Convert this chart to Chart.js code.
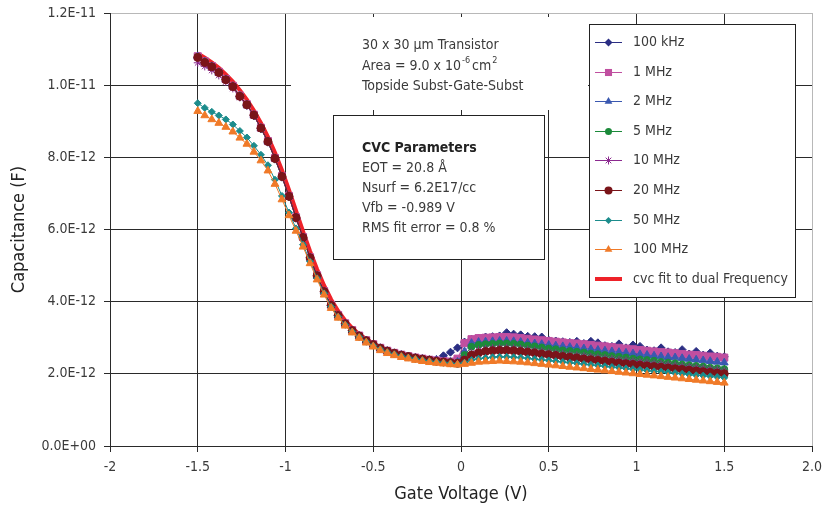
<!DOCTYPE html>
<html>
<head>
<meta charset="utf-8">
<script src="https://cdn.jsdelivr.net/npm/chart.js"></script>
<style>
  html, body { margin: 0; padding: 0; background: #fff; }
</style>
</head>
<body>
<canvas id="mycanvas" width="825" height="510"></canvas>
<script>
// gate voltage sweep (V)
var volts = [
  -1.50, -1.46, -1.42, -1.38, -1.34, -1.30, -1.26, -1.22, -1.18, -1.14,
  -1.10, -1.06, -1.02, -0.98, -0.94, -0.90, -0.86, -0.82, -0.78, -0.74,
  -0.70, -0.66, -0.62, -0.58, -0.54, -0.50, -0.46, -0.42, -0.38, -0.34,
  -0.30, -0.26, -0.22, -0.18, -0.14, -0.10, -0.06, -0.02, 0.02, 0.06,
  0.10, 0.14, 0.18, 0.22, 0.26, 0.30, 0.34, 0.38, 0.42, 0.46,
  0.50, 0.54, 0.58, 0.62, 0.66, 0.70, 0.74, 0.78, 0.82, 0.86,
  0.90, 0.94, 0.98, 1.02, 1.06, 1.10, 1.14, 1.18, 1.22, 1.26,
  1.30, 1.34, 1.38, 1.42, 1.46, 1.50
];

// capacitance, in pF
var c100k = [
  10.76, 10.63, 10.50, 10.34, 10.15, 9.95, 9.68, 9.44, 9.15, 8.79,
  8.42, 7.95, 7.45, 6.90, 6.31, 5.76, 5.21, 4.71, 4.27, 3.89,
  3.61, 3.38, 3.19, 3.04, 2.91, 2.80, 2.70, 2.62, 2.56, 2.51,
  2.47, 2.43, 2.40, 2.38, 2.40, 2.50, 2.60, 2.72, 2.88, 2.96,
  2.99, 3.02, 3.03, 3.05, 3.14, 3.10, 3.08, 3.04, 3.03, 3.02,
  2.93, 2.91, 2.89, 2.87, 2.90, 2.84, 2.90, 2.86, 2.78, 2.76,
  2.83, 2.72, 2.80, 2.76, 2.66, 2.64, 2.72, 2.61, 2.59, 2.67,
  2.55, 2.62, 2.52, 2.58, 2.49, 2.47
];
var c1M = [
  10.80, 10.66, 10.53, 10.37, 10.17, 9.98, 9.71, 9.47, 9.18, 8.82,
  8.45, 7.98, 7.48, 6.93, 6.34, 5.79, 5.23, 4.73, 4.29, 3.91,
  3.63, 3.40, 3.21, 3.06, 2.93, 2.82, 2.72, 2.64, 2.58, 2.53,
  2.49, 2.45, 2.42, 2.39, 2.37, 2.35, 2.34, 2.42, 2.85, 2.96,
  2.99, 3.00, 3.01, 3.02, 3.02, 3.01, 2.99, 2.97, 2.95, 2.93,
  2.91, 2.89, 2.87, 2.85, 2.84, 2.82, 2.80, 2.78, 2.76, 2.74,
  2.72, 2.70, 2.68, 2.66, 2.64, 2.62, 2.60, 2.59, 2.57, 2.55,
  2.53, 2.52, 2.50, 2.48, 2.47, 2.45
];
var c2M = [
  10.79, 10.65, 10.52, 10.36, 10.16, 9.97, 9.70, 9.46, 9.17, 8.81,
  8.44, 7.97, 7.47, 6.92, 6.33, 5.78, 5.22, 4.72, 4.28, 3.90,
  3.62, 3.39, 3.20, 3.05, 2.92, 2.81, 2.71, 2.63, 2.57, 2.52,
  2.48, 2.44, 2.41, 2.38, 2.36, 2.34, 2.33, 2.33, 2.62, 2.85,
  2.88, 2.89, 2.90, 2.91, 2.91, 2.90, 2.88, 2.86, 2.84, 2.82,
  2.80, 2.78, 2.76, 2.74, 2.72, 2.70, 2.68, 2.66, 2.64, 2.62,
  2.60, 2.58, 2.56, 2.54, 2.52, 2.50, 2.48, 2.46, 2.45, 2.43,
  2.41, 2.39, 2.37, 2.35, 2.33, 2.31
];
var c5M = [
  10.78, 10.64, 10.51, 10.35, 10.15, 9.96, 9.69, 9.45, 9.16, 8.80,
  8.43, 7.96, 7.46, 6.91, 6.32, 5.77, 5.21, 4.71, 4.27, 3.89,
  3.61, 3.38, 3.19, 3.04, 2.91, 2.80, 2.70, 2.62, 2.56, 2.51,
  2.47, 2.43, 2.40, 2.37, 2.35, 2.33, 2.32, 2.31, 2.52, 2.75,
  2.80, 2.82, 2.83, 2.84, 2.84, 2.83, 2.81, 2.78, 2.76, 2.73,
  2.70, 2.68, 2.65, 2.63, 2.61, 2.59, 2.56, 2.54, 2.52, 2.49,
  2.47, 2.45, 2.42, 2.40, 2.38, 2.36, 2.33, 2.31, 2.29, 2.26,
  2.24, 2.22, 2.20, 2.17, 2.15, 2.13
];
var c10M = [
  10.62, 10.52, 10.41, 10.27, 10.09, 9.91, 9.66, 9.43, 9.15, 8.80,
  8.43, 7.96, 7.46, 6.91, 6.32, 5.77, 5.21, 4.71, 4.27, 3.89,
  3.61, 3.38, 3.19, 3.04, 2.91, 2.80, 2.70, 2.62, 2.56, 2.51,
  2.47, 2.43, 2.40, 2.37, 2.35, 2.33, 2.31, 2.30, 2.42, 2.58,
  2.65, 2.69, 2.71, 2.72, 2.72, 2.71, 2.69, 2.67, 2.64, 2.62,
  2.59, 2.57, 2.55, 2.53, 2.51, 2.49, 2.47, 2.45, 2.43, 2.41,
  2.39, 2.37, 2.35, 2.33, 2.31, 2.29, 2.27, 2.25, 2.23, 2.21,
  2.19, 2.17, 2.15, 2.13, 2.11, 2.08
];
var c20M = [
  10.77, 10.63, 10.51, 10.35, 10.15, 9.96, 9.69, 9.46, 9.17, 8.81,
  8.44, 7.97, 7.47, 6.92, 6.33, 5.78, 5.22, 4.72, 4.28, 3.90,
  3.62, 3.39, 3.20, 3.05, 2.92, 2.81, 2.71, 2.63, 2.57, 2.52,
  2.48, 2.44, 2.41, 2.38, 2.35, 2.33, 2.31, 2.29, 2.38, 2.52,
  2.58, 2.62, 2.64, 2.65, 2.65, 2.64, 2.62, 2.60, 2.58, 2.55,
  2.53, 2.51, 2.48, 2.46, 2.44, 2.41, 2.39, 2.37, 2.35, 2.32,
  2.30, 2.28, 2.26, 2.24, 2.22, 2.20, 2.18, 2.16, 2.14, 2.12,
  2.10, 2.08, 2.06, 2.04, 2.02, 2.00
];
var c50M = [
  9.50, 9.37, 9.26, 9.16, 9.05, 8.91, 8.73, 8.55, 8.32, 8.07,
  7.78, 7.38, 6.93, 6.47, 6.03, 5.58, 5.11, 4.65, 4.23, 3.86,
  3.58, 3.36, 3.17, 3.02, 2.89, 2.78, 2.68, 2.60, 2.54, 2.49,
  2.45, 2.41, 2.38, 2.35, 2.33, 2.31, 2.29, 2.27, 2.31, 2.38,
  2.42, 2.44, 2.46, 2.47, 2.47, 2.46, 2.45, 2.43, 2.41, 2.39,
  2.37, 2.35, 2.33, 2.31, 2.29, 2.27, 2.25, 2.23, 2.21, 2.19,
  2.17, 2.15, 2.13, 2.11, 2.09, 2.07, 2.06, 2.04, 2.02, 2.00,
  1.98, 1.96, 1.95, 1.93, 1.91, 1.89
];
var c100M = [
  9.28, 9.16, 9.05, 8.95, 8.84, 8.71, 8.54, 8.37, 8.15, 7.91,
  7.63, 7.26, 6.83, 6.39, 5.96, 5.52, 5.06, 4.61, 4.19, 3.82,
  3.55, 3.33, 3.14, 2.99, 2.86, 2.75, 2.65, 2.57, 2.51, 2.46,
  2.42, 2.38, 2.35, 2.32, 2.30, 2.28, 2.26, 2.25, 2.27, 2.30,
  2.33, 2.34, 2.35, 2.36, 2.35, 2.34, 2.33, 2.31, 2.29, 2.27,
  2.25, 2.23, 2.21, 2.19, 2.17, 2.15, 2.13, 2.11, 2.09, 2.07,
  2.05, 2.03, 2.01, 1.99, 1.97, 1.95, 1.93, 1.91, 1.89, 1.87,
  1.85, 1.83, 1.81, 1.79, 1.77, 1.75
];
// cvc fit, only over the accumulation/depletion part
var cFit = [
  10.88, 10.76, 10.63, 10.48, 10.30, 10.10, 9.86, 9.60, 9.30, 8.95,
  8.57, 8.13, 7.64, 7.10, 6.52, 5.95, 5.40, 4.90, 4.45, 4.06,
  3.74, 3.48, 3.27, 3.10, 2.96, 2.84, 2.74, 2.66, 2.59, 2.53,
  2.48, 2.44, 2.41, 2.38, 2.36, 2.34, 2.33, 2.32
];

var seriesNames = ['100 kHz', '1 MHz', '2 MHz', '5 MHz', '10 MHz', '20 MHz', '50 MHz', '100 MHz', 'cvc fit to dual Frequency'];
var yTicks = [0, 2, 4, 6, 8, 10, 12];
var xTicks = [-2, -1.5, -1, -0.5, 0, 0.5, 1, 1.5, 2];

var FONT = "'Liberation Sans Narrow', 'DejaVu Sans Condensed', 'Roboto', sans-serif";
var TXT = '#3a3a3a';

var styles = [
  { color: '#2b2e83', pt: 'rectRot', r: 4 },
  { color: '#c04fa0', pt: 'rect', r: 5 },
  { color: '#3a58b0', pt: 'triangle', r: 4.5 },
  { color: '#1c8a3a', pt: 'circle', r: 3.5 },
  { color: '#8b2a8f', pt: 'star', r: 4 },
  { color: '#7a1419', pt: 'circle', r: 4 },
  { color: '#1c8c8c', pt: 'rectRot', r: 3.5 },
  { color: '#f07a28', pt: 'triangle', r: 4.5 }
];
var allSeries = [c100k, c1M, c2M, c5M, c10M, c20M, c50M, c100M];

function pts(ys) {
  return ys.map(function(y, i) { return { x: volts[i], y: y }; });
}

var datasets = [];
for (var i = 0; i < allSeries.length; i++) {
  datasets.push({
    label: seriesNames[i],
    data: pts(allSeries[i]),
    showLine: true,
    borderColor: styles[i].color,
    backgroundColor: styles[i].color,
    borderWidth: 1,
    pointStyle: styles[i].pt,
    pointRadius: styles[i].r,
    pointBorderWidth: 1,
    pointBorderColor: styles[i].color,
    pointBackgroundColor: styles[i].color,
    order: 10 - i
  });
}
datasets.push({
  label: seriesNames[8],
  data: pts(cFit),
  showLine: true,
  borderColor: '#ee2229',
  backgroundColor: '#ee2229',
  borderWidth: 4,
  pointRadius: 0,
  order: 20
});

function marker(ctx, style, x, y, r, color) {
  ctx.fillStyle = color;
  ctx.strokeStyle = color;
  ctx.lineWidth = 1;
  ctx.beginPath();
  if (style === 'circle') {
    ctx.arc(x, y, r, 0, Math.PI * 2);
    ctx.fill();
  } else if (style === 'rect') {
    var s = r * Math.SQRT1_2;
    ctx.rect(x - s, y - s, 2 * s, 2 * s);
    ctx.fill();
  } else if (style === 'rectRot') {
    ctx.moveTo(x, y - r); ctx.lineTo(x + r, y); ctx.lineTo(x, y + r); ctx.lineTo(x - r, y);
    ctx.closePath();
    ctx.fill();
  } else if (style === 'triangle') {
    ctx.moveTo(x, y - r); ctx.lineTo(x + 0.866 * r, y + 0.5 * r); ctx.lineTo(x - 0.866 * r, y + 0.5 * r);
    ctx.closePath();
    ctx.fill();
  } else if (style === 'star') {
    var d = r * 0.707;
    ctx.moveTo(x - r, y); ctx.lineTo(x + r, y);
    ctx.moveTo(x, y - r); ctx.lineTo(x, y + r);
    ctx.moveTo(x - d, y - d); ctx.lineTo(x + d, y + d);
    ctx.moveTo(x - d, y + d); ctx.lineTo(x + d, y - d);
    ctx.stroke();
  }
}

var annot = {
  id: 'annot',
  afterDraw: function(chart) {
    var ctx = chart.ctx;
    ctx.save();
    ctx.textBaseline = 'middle';
    ctx.textAlign = 'left';

    // sample description (no frame, white behind)
    ctx.fillStyle = '#fff';
    ctx.fillRect(291, 17, 297, 93);
    ctx.fillStyle = TXT;
    ctx.font = '14px ' + FONT;
    ctx.fillText('30 x 30 \u00b5m Transistor', 362, 45);
    var x = 362;
    var t = 'Area = 9.0 x 10';
    ctx.fillText(t, x, 66); x += ctx.measureText(t).width + 1;
    ctx.font = '9px ' + FONT;
    ctx.fillText('-6', x, 61); x += ctx.measureText('-6').width + 2;
    ctx.font = '14px ' + FONT;
    ctx.fillText('cm', x, 66); x += ctx.measureText('cm').width + 1;
    ctx.font = '9px ' + FONT;
    ctx.fillText('2', x, 61);
    ctx.font = '14px ' + FONT;
    ctx.fillText('Topside Subst-Gate-Subst', 362, 86);

    // CVC box
    ctx.fillStyle = '#fff';
    ctx.fillRect(333, 115, 211, 144);
    ctx.strokeStyle = '#222';
    ctx.lineWidth = 1;
    ctx.strokeRect(333.5, 115.5, 211, 144);
    ctx.fillStyle = '#222';
    ctx.font = 'bold 14px ' + FONT;
    ctx.fillText('CVC Parameters', 362, 148);
    ctx.fillStyle = TXT;
    ctx.font = '14px ' + FONT;
    ctx.fillText('EOT = 20.8 \u00c5', 362, 168);
    ctx.fillText('Nsurf = 6.2E17/cc', 362, 188);
    ctx.fillText('Vfb = -0.989 V', 362, 208);
    ctx.fillText('RMS fit error = 0.8 %', 362, 228);

    // legend box
    ctx.fillStyle = '#fff';
    ctx.fillRect(589, 24, 206, 273);
    ctx.strokeStyle = '#222';
    ctx.strokeRect(589.5, 24.5, 206, 273);
    for (var i = 0; i < seriesNames.length; i++) {
      var y = Math.round(42 + i * 29.6);
      if (i < 8) {
        ctx.strokeStyle = styles[i].color;
        ctx.lineWidth = 1;
        ctx.beginPath();
        ctx.moveTo(595, y + 0.5); ctx.lineTo(622, y + 0.5);
        ctx.stroke();
        marker(ctx, styles[i].pt, 608.5, y + 0.5, styles[i].r, styles[i].color);
      } else {
        ctx.strokeStyle = '#ee2229';
        ctx.lineWidth = 4;
        ctx.beginPath();
        ctx.moveTo(595, y); ctx.lineTo(622, y);
        ctx.stroke();
      }
      ctx.fillStyle = TXT;
      ctx.font = '14px ' + FONT;
      ctx.fillText(seriesNames[i], 633, y);
    }
    ctx.restore();
  }
};

function fmtF(v) {
  if (v === 0) return '0.0E+00';
  return (v * 1e-12).toExponential(1).toUpperCase();
}

var ctx = document.getElementById('mycanvas');
var chart = new Chart(ctx, {
  type: 'scatter',
  data: { datasets: datasets },
  options: {
    responsive: false,
    animation: false,
    devicePixelRatio: 1,
    layout: { padding: { left: 0, top: 13, right: 13, bottom: 0 } },
    plugins: { legend: { display: false }, tooltip: { enabled: false } },
    scales: {
      x: {
        type: 'linear',
        min: -2, max: 2,
        afterFit: function(s) { s.height = 64; s.paddingLeft = 0; s.paddingRight = 0; },
        afterBuildTicks: function(s) { s.ticks = xTicks.map(function(v) { return { value: v }; }); },
        grid: {
          color: function(c) { return c.tick && c.tick.value === 2 ? '#b8b8b8' : '#2a2a2a'; },
          tickColor: '#2a2a2a',
          tickLength: 6,
          lineWidth: 1
        },
        border: { color: '#2a2a2a', width: 1 },
        ticks: {
          autoSkip: false, maxRotation: 0, padding: 7,
          color: TXT,
          font: { family: FONT, size: 14 },
          callback: function(v) { return v === 2 ? '2.0' : String(v); }
        },
        title: {
          display: true, text: 'Gate Voltage (V)', color: '#222',
          font: { family: FONT, size: 18 },
          padding: { top: 0, bottom: 5 }
        }
      },
      y: {
        type: 'linear',
        min: 0, max: 12,
        afterFit: function(s) { s.width = 110; s.paddingTop = 0; s.paddingBottom = 0; },
        afterBuildTicks: function(s) { s.ticks = yTicks.map(function(v) { return { value: v }; }); },
        grid: {
          color: function(c) { return c.tick && c.tick.value === 12 ? '#b8b8b8' : '#2a2a2a'; },
          tickColor: '#2a2a2a',
          tickLength: 6,
          lineWidth: 1
        },
        border: { color: '#2a2a2a', width: 1 },
        ticks: {
          autoSkip: false, padding: 8,
          color: TXT,
          font: { family: FONT, size: 14 },
          callback: fmtF
        },
        title: {
          display: true, text: 'Capacitance (F)', color: '#222',
          font: { family: FONT, size: 18 },
          padding: { top: 9, bottom: 0 }
        }
      }
    }
  },
  plugins: [annot]
});
</script>
</body>
</html>
